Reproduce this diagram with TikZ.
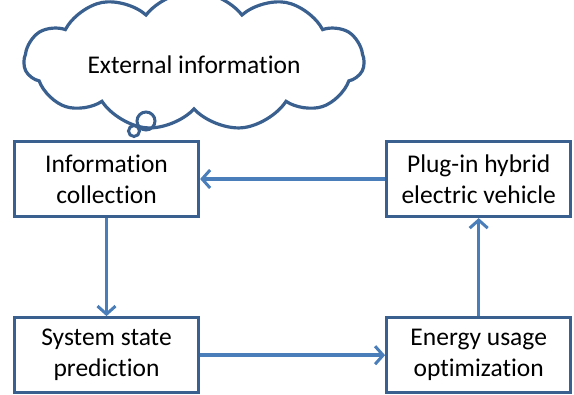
\documentclass[tikz,border=0pt]{standalone}
\usepackage{fontspec}
\setmainfont[Ligatures=NoCommon]{Carlito}
\usepackage{tikz}
\usetikzlibrary{arrows.meta,positioning,shapes.symbols}
\definecolor{boxblue}{HTML}{3A6090}
\definecolor{flowblue}{HTML}{4A7EBB}
\tikzset{
  box/.style={draw=boxblue, line width=3.2pt, fill=white, align=center, minimum width=184pt, minimum height=75pt, inner sep=2pt, font=\fontsize{25.5}{31}\selectfont},
  thought/.style={cloud, cloud puffs=11, cloud puff arc=105, aspect=3.1, draw=boxblue, line width=3.2pt, minimum width=340pt, minimum height=112pt, text height=30pt, text depth=5pt, font=\fontsize{25.5}{31}\selectfont},
  bubble/.style={circle, draw=boxblue, line width=3pt, inner sep=0pt},
  arrow/.style={-{Straight Barb[length=8pt,width=18pt,line width=3pt]}, line width=3.4pt, draw=flowblue}
}

\begin{document}
\begin{tikzpicture}[x=1pt, y=-1pt, node distance=98pt and 185pt]
  \useasboundingbox (0,0) rectangle (574,395);
  \node[box] (collect) at (106.5,179) {Information\\collection};
  \node[box, right=of collect] (phev) {Plug-in hybrid\\electric vehicle};
  \node[box, below=of collect] (predict) {System state\\prediction};
  \node[box, below=of phev] (optim) {Energy usage\\optimization};
  \node[thought] (ext) at (194,61) {External information};
  \node[bubble, minimum size=18pt] (bub1) at (146,121) {};
  \node[bubble, minimum size=11pt] (bub2) at (134,131) {};

  \draw[arrow] (phev) -- (collect);
  \draw[arrow] (collect) -- (predict);
  \draw[arrow] (predict) -- (optim);
  \draw[arrow] (optim) -- (phev);
\end{tikzpicture}
\end{document}
